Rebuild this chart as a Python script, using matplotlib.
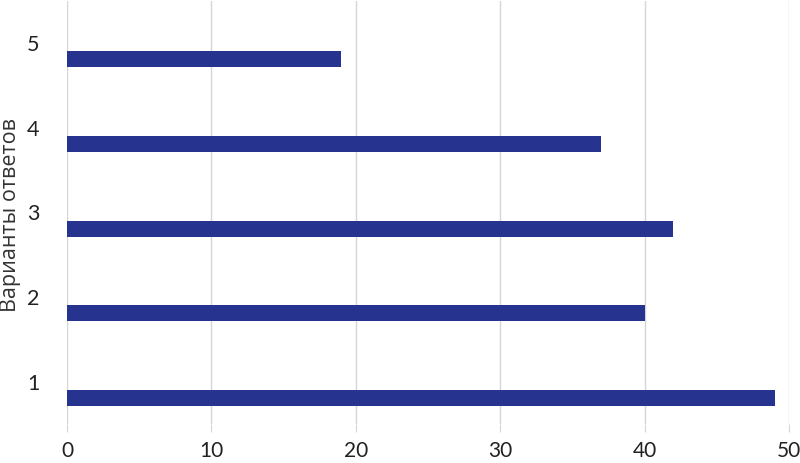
import matplotlib
matplotlib.use("Agg")
import matplotlib.pyplot as plt
import numpy as np

categories = ["1", "2", "3", "4", "5"]
values = [49, 40, 42, 37, 19]
xticks = [0, 10, 20, 30, 40, 50]
ylabel = "Варианты ответов"

plt.rcParams['font.family'] = ['Lato', 'DejaVu Sans']

fig = plt.figure(figsize=(8, 4.63), dpi=100)
ax = fig.add_axes([67/800, 39/463, (789-67)/800, (462-39)/463])

pos = np.arange(1, len(categories) + 1)
offset = 0.19
ax.barh(pos - offset, values, height=0.19, color="#27348f", zorder=3)

ax.set_xlim(0, 50)
ax.set_ylim(0.5, 5.5)
ax.set_xticks(xticks)
ax.set_xticklabels([str(t) for t in xticks], fontsize=15, color="#222222")
ax.set_yticks(pos)
ax.set_yticklabels(categories, fontsize=15.5, color="#222222")
ax.grid(axis="x", color="#d6d6d6", linewidth=1.0, zorder=0)
for s in ax.spines.values():
    s.set_visible(False)
ax.tick_params(axis="x", length=6, color="#d6d6d6", pad=6)
ax.tick_params(axis="y", length=0, pad=20)
fig.text(11/800, 1 - 215/463, ylabel, rotation=90, ha="center", va="center",
         fontsize=15.5, color="#333333", family=['Open Sans', 'DejaVu Sans'])

fig.savefig("out.png", dpi=100)
